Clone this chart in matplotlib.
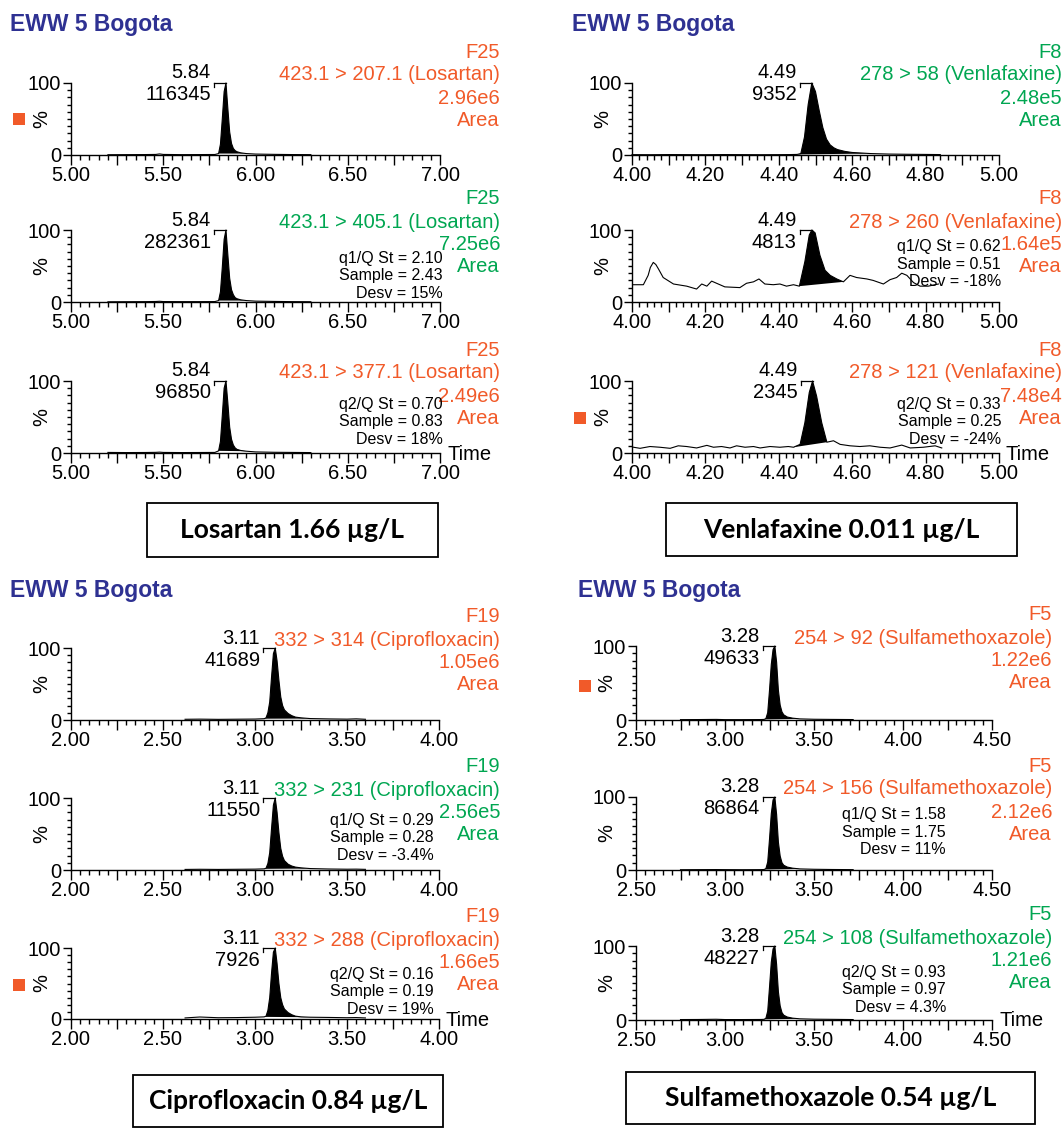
import matplotlib
matplotlib.use("Agg")
import matplotlib.pyplot as plt
from matplotlib.lines import Line2D
from matplotlib.patches import Rectangle
from matplotlib.ticker import MultipleLocator, FixedLocator, FuncFormatter

plt.rcParams['font.family'] = ['Liberation Sans', 'DejaVu Sans']

# ---------------- data ----------------
sample_title = "EWW 5 Bogota"

# Losartan (x 5.00-7.00)
los_t = [5.20, 5.30, 5.40, 5.46, 5.48, 5.50, 5.60, 5.70, 5.78, 5.80, 5.81, 5.82, 5.83,
         5.84, 5.85, 5.86, 5.87, 5.88, 5.89, 5.90, 5.92, 5.95, 6.00, 6.10, 6.20, 6.30]
los_q = [0.4, 0.5, 0.6, 0.8, 1.5, 0.8, 0.5, 0.6, 0.7, 2, 15, 50, 88,
         100, 65, 32, 16, 9, 6, 4.5, 3, 2, 1.3, 0.9, 0.6, 0.5]
los_q1 = [0.3, 0.4, 0.5, 0.7, 1.0, 0.6, 0.5, 0.5, 0.6, 2, 14, 48, 87,
          100, 66, 33, 17, 10, 6, 4.5, 3, 2, 1.2, 0.8, 0.5, 0.4]
los_q2 = [0.8, 0.6, 0.7, 0.9, 1.2, 0.8, 0.6, 0.7, 0.8, 3, 16, 52, 90,
          100, 70, 36, 19, 11, 7, 5, 3.5, 2.5, 1.5, 1.0, 0.8, 0.6]
los_rt = "5.84"
los_heights = ["116345", "282361", "96850"]
los_channel = "F25"
los_transitions = ["423.1 > 207.1 (Losartan)", "423.1 > 405.1 (Losartan)", "423.1 > 377.1 (Losartan)"]
los_areas = ["2.96e6", "7.25e6", "2.49e6"]
los_colors = ["red", "green", "red"]
los_ratios = [None, ("q1", "2.10", "2.43", "15%"), ("q2", "0.70", "0.83", "18%")]
los_fill = [(5.80, 5.95), (5.80, 5.95), (5.80, 5.95)]
los_result = "Losartan 1.66 µg/L"

# Venlafaxine (x 4.00-5.00)
ven_t_q = [4.00, 4.05, 4.10, 4.15, 4.20, 4.25, 4.30, 4.35, 4.40, 4.43, 4.45, 4.46, 4.47,
           4.48, 4.49, 4.50, 4.51, 4.52, 4.53, 4.54, 4.55, 4.56, 4.58, 4.60, 4.65, 4.70,
           4.75, 4.80, 4.84]
ven_q = [0.5, 0.4, 0.6, 0.5, 0.4, 0.6, 0.5, 0.4, 0.5, 0.6, 0.8, 2, 25,
         70, 100, 88, 62, 38, 22, 14, 10, 7.5, 5, 3.5, 2, 1.3,
         1, 0.8, 0.6]
ven_t_q1 = [4.004, 4.031, 4.044, 4.050, 4.058, 4.065, 4.072, 4.085, 4.113, 4.149, 4.176,
            4.190, 4.204, 4.217, 4.235, 4.253, 4.294, 4.312, 4.331, 4.346, 4.362, 4.385,
            4.403, 4.421, 4.440, 4.456, 4.471, 4.483, 4.490, 4.499, 4.512, 4.526, 4.540,
            4.558, 4.576, 4.594, 4.612, 4.640, 4.657, 4.685, 4.703, 4.721, 4.735, 4.749,
            4.767, 4.785, 4.807, 4.835]
ven_q1 = [24, 24, 37, 48, 55, 52, 46, 34, 25, 22, 18,
          25, 22, 29, 25, 21, 20, 26, 28, 32, 25, 24,
          25, 22, 24, 22, 56, 93, 100, 96, 65, 44, 37,
          32, 28, 37, 34, 32, 30, 25, 31, 34, 40, 37,
          27, 22, 22, 25]
ven_t_q2 = [4.004, 4.022, 4.049, 4.076, 4.104, 4.126, 4.149, 4.176, 4.204, 4.222, 4.244,
            4.267, 4.285, 4.308, 4.331, 4.349, 4.376, 4.403, 4.426, 4.440, 4.458, 4.471,
            4.483, 4.492, 4.503, 4.517, 4.531, 4.549, 4.567, 4.594, 4.621, 4.648, 4.676,
            4.703, 4.735, 4.758, 4.794, 4.826, 4.844]
ven_q2 = [8, 6.5, 9, 8, 6.5, 10, 9, 7, 10.6, 8, 9,
          7, 10, 8, 9, 7, 9, 8, 9, 8, 12, 42,
          84, 100, 79, 42, 15, 17, 12, 10, 9, 10, 8,
          7, 11, 7, 8, 10, 7]
ven_rt = "4.49"
ven_heights = ["9352", "4813", "2345"]
ven_channel = "F8"
ven_transitions = ["278 > 58 (Venlafaxine)", "278 > 260 (Venlafaxine)", "278 > 121 (Venlafaxine)"]
ven_areas = ["2.48e5", "1.64e5", "7.48e4"]
ven_colors = ["green", "red", "red"]
ven_ratios = [None, ("q1", "0.62", "0.51", "-18%"), ("q2", "0.33", "0.25", "-24%")]
ven_fill = [(4.45, 4.65), (4.456, 4.576), (4.440, 4.531)]
ven_result = "Venlafaxine 0.011 µg/L"

# Ciprofloxacin (x 2.00-4.00)
cip_t = [2.62, 2.70, 2.80, 2.90, 3.00, 3.05, 3.06, 3.07, 3.08, 3.09, 3.10, 3.11, 3.12,
         3.13, 3.14, 3.15, 3.16, 3.18, 3.20, 3.22, 3.25, 3.30, 3.40, 3.50, 3.55, 3.60]
cip_q = [1.0, 1.2, 0.9, 1.1, 1.3, 1.8, 3, 10, 25, 60, 92, 100, 82,
         55, 32, 20, 14, 9, 6, 4, 3, 2, 1.5, 1.2, 1.6, 1.0]
cip_q1 = [0.8, 1.0, 0.8, 1.0, 1.2, 1.6, 2.5, 9, 24, 58, 90, 100, 80,
          52, 30, 19, 13, 8, 5.5, 4, 3, 2, 1.4, 1.1, 1.2, 0.9]
cip_q2 = [1.5, 2.8, 1.8, 2.0, 2.5, 3, 4, 12, 30, 65, 94, 100, 78,
          50, 30, 20, 14, 9, 6, 4, 3, 2.5, 2.2, 1.8, 2.0, 1.5]
cip_rt = "3.11"
cip_heights = ["41689", "11550", "7926"]
cip_channel = "F19"
cip_transitions = ["332 > 314 (Ciprofloxacin)", "332 > 231 (Ciprofloxacin)", "332 > 288 (Ciprofloxacin)"]
cip_areas = ["1.05e6", "2.56e5", "1.66e5"]
cip_colors = ["red", "green", "red"]
cip_ratios = [None, ("q1", "0.29", "0.28", "-3.4%"), ("q2", "0.16", "0.19", "19%")]
cip_fill = [(3.05, 3.30), (3.05, 3.30), (3.05, 3.30)]
cip_result = "Ciprofloxacin 0.84 µg/L"

# Sulfamethoxazole (x 2.50-4.50)
sul_t = [2.75, 2.85, 2.95, 3.00, 3.10, 3.20, 3.22, 3.23, 3.24, 3.25, 3.26, 3.27, 3.28,
         3.29, 3.30, 3.31, 3.32, 3.33, 3.35, 3.38, 3.42, 3.50, 3.60, 3.72]
sul_q = [0.5, 0.6, 0.8, 0.5, 0.5, 0.6, 0.8, 2, 10, 40, 75, 95, 100,
         78, 40, 20, 11, 7, 4, 2.5, 1.5, 1.0, 0.8, 0.6]
sul_q1 = [0.4, 0.5, 0.6, 0.5, 0.4, 0.5, 0.7, 2, 11, 42, 77, 96, 100,
          76, 38, 19, 10, 6.5, 4, 2.5, 1.5, 1.0, 0.7, 0.5]
sul_q2 = [0.6, 0.7, 1.0, 0.6, 0.6, 0.7, 0.9, 2.5, 12, 44, 78, 96, 100,
          75, 38, 19, 10, 6.5, 4, 2.5, 1.6, 1.1, 0.9, 0.6]
sul_rt = "3.28"
sul_heights = ["49633", "86864", "48227"]
sul_channel = "F5"
sul_transitions = ["254 > 92 (Sulfamethoxazole)", "254 > 156 (Sulfamethoxazole)", "254 > 108 (Sulfamethoxazole)"]
sul_areas = ["1.22e6", "2.12e6", "1.21e6"]
sul_colors = ["red", "red", "green"]
sul_ratios = [None, ("q1", "1.58", "1.75", "11%"), ("q2", "0.93", "0.97", "4.3%")]
sul_fill = [(3.22, 3.42), (3.22, 3.42), (3.22, 3.42)]
sul_result = "Sulfamethoxazole 0.54 µg/L"

# ---------------- style / layout ----------------
W, H = 1064, 1128
RED = "#F15A29"
GREEN = "#00A651"
BLUE = "#2E3192"
COL = {"red": RED, "green": GREEN}
FS = 14.5
FS_SMALL = 11.5

fig = plt.figure(figsize=(W / 100, H / 100), dpi=100)


def fx(x):
    return x / W


def fy(y):
    return 1 - y / H


def ftext(x, y, s, **kw):
    fig.text(fx(x), fy(y), s, **kw)


def to_px(ax, x, y):
    dx, dy = ax.transData.transform((x, y))
    return dx, H - dy


def draw_group(g):
    x0, x1 = g["x0"], g["x1"]
    ftext(g["title"][0], g["title"][1], sample_title, ha="left", va="center",
          fontsize=16.5, fontweight="bold", color=BLUE)
    for i in range(3):
        top, bot = g["rows"][i]
        ax = fig.add_axes([fx(x0), fy(bot), fx(x1 - x0), (bot - top) / H])
        ax.set_facecolor("none")
        t, y = g["t"][i], g["y"][i]
        ax.set_xlim(*g["xlim"])
        ax.set_ylim(0, 100)
        for s in ("top", "right"):
            ax.spines[s].set_visible(False)
        for s in ("left", "bottom"):
            ax.spines[s].set_linewidth(1.0)
        ax.xaxis.set_major_locator(MultipleLocator(g["major"]))
        ax.xaxis.set_minor_locator(MultipleLocator(g["minor"]))
        le = g["label_every"]
        ax.xaxis.set_major_formatter(FuncFormatter(
            lambda v, p, le=le: f"{v:.2f}" if abs(v / le - round(v / le)) < 1e-6 else ""))
        ax.yaxis.set_major_locator(FixedLocator([0, 100]))
        ax.yaxis.set_minor_locator(MultipleLocator(10))
        ax.tick_params(axis="x", which="major", length=7, width=1.0, pad=1, labelsize=FS)
        ax.tick_params(axis="x", which="minor", length=3.5, width=1.0)
        ax.tick_params(axis="y", which="major", length=6, width=1.0, pad=1, labelsize=FS)
        ax.tick_params(axis="y", which="minor", length=3, width=1.0)
        # trace
        ax.plot(t, y, color="black", lw=0.8, clip_on=False, zorder=3)
        fs, fe = g["fill"][i]
        idx = [k for k in range(len(t)) if fs - 1e-9 <= t[k] <= fe + 1e-9]
        px = [t[k] for k in idx]
        py = [y[k] for k in idx]
        ax.fill(px, py, color="black", lw=0, zorder=3, clip_on=False)
        # peak label
        k = max(range(len(y)), key=lambda j: y[j])
        ax_px, ay_px = to_px(ax, t[k], y[k])
        fig.add_artist(Line2D([fx(ax_px - 12), fx(ax_px)], [fy(top), fy(top)],
                              color="black", lw=0.9, transform=fig.transFigure))
        fig.add_artist(Line2D([fx(ax_px - 12), fx(ax_px - 12)], [fy(top), fy(top + 4)],
                              color="black", lw=0.9, transform=fig.transFigure))
        ftext(ax_px - 15, top - 10, g["rt"], ha="right", va="center", fontsize=FS)
        ftext(ax_px - 15, top + 12, g["heights"][i], ha="right", va="center", fontsize=FS)
        # % label
        ftext(x0 - 29, (top + bot) / 2, "%", ha="center", va="center", rotation=90, fontsize=FS)
        # right text block
        c = COL[g["colors"][i]]
        rx = g["rx"]
        for off, s in zip([-31, -8, 15, 37],
                          [g["channel"], g["trans"][i], g["areas"][i], "Area"]):
            ftext(rx, top + off, s, ha="right", va="center", fontsize=FS, color=c)
        # ratio block
        r = g["ratios"][i]
        if r is not None:
            y0 = top + g["small_off"][i]
            lines = [f"{r[0]}/Q St = {r[1]}", f"Sample = {r[2]}", f"Desv = {r[3]}"]
            for j, s in enumerate(lines):
                ftext(g["sx"], y0 + 17.5 * j, s, ha="right", va="center", fontsize=FS_SMALL)
        if i == 2:
            ftext(x1 + 7, bot + 1, "Time", ha="left", va="center", fontsize=FS)
    # result box
    bx0, by0, bx1, by1 = g["box"]
    fig.add_artist(Rectangle((fx(bx0), fy(by1)), fx(bx1 - bx0), (by1 - by0) / H,
                             fill=False, ec="black", lw=1.3, transform=fig.transFigure))
    ftext((bx0 + bx1) / 2, (by0 + by1) / 2, g["result"], ha="center", va="center",
          fontsize=19, fontweight="bold", family=["Lato", "DejaVu Sans"])
    sqx, sqy = g["square"]
    fig.add_artist(Rectangle((fx(sqx - 6), fy(sqy + 6)), 12 / W, 12 / H, color=RED,
                             lw=0, transform=fig.transFigure))


groups = [
    dict(x0=71, x1=440, rows=[(83, 155), (230, 302), (381, 453)], title=(10, 25),
         xlim=(5.0, 7.0), major=0.25, minor=0.05, label_every=0.5,
         t=[los_t, los_t, los_t], y=[los_q, los_q1, los_q2], fill=los_fill,
         rt=los_rt, heights=los_heights, channel=los_channel, trans=los_transitions,
         areas=los_areas, colors=los_colors, ratios=los_ratios, result=los_result,
         rx=500, sx=443, small_off=[0, 28, 23], box=(147, 503, 438, 557), square=(19, 119)),
    dict(x0=632, x1=999, rows=[(83, 155), (230, 302), (381, 453)], title=(572, 25),
         xlim=(4.0, 5.0), major=0.1, minor=0.02, label_every=0.2,
         t=[ven_t_q, ven_t_q1, ven_t_q2], y=[ven_q, ven_q1, ven_q2], fill=ven_fill,
         rt=ven_rt, heights=ven_heights, channel=ven_channel, trans=ven_transitions,
         areas=ven_areas, colors=ven_colors, ratios=ven_ratios, result=ven_result,
         rx=1062, sx=1001, small_off=[0, 17, 23], box=(666, 503, 1017, 556), square=(580, 418)),
    dict(x0=71, x1=439, rows=[(648, 720), (798, 870), (948, 1019)], title=(10, 590),
         xlim=(2.0, 4.0), major=0.25, minor=0.05, label_every=0.5,
         t=[cip_t, cip_t, cip_t], y=[cip_q, cip_q1, cip_q2], fill=cip_fill,
         rt=cip_rt, heights=cip_heights, channel=cip_channel, trans=cip_transitions,
         areas=cip_areas, colors=cip_colors, ratios=cip_ratios, result=cip_result,
         rx=500, sx=434, small_off=[0, 22, 26], box=(133, 1075, 443, 1127), square=(19, 985)),
    dict(x0=636, x1=992, rows=[(646, 720), (797, 870), (946, 1020)], title=(578, 590),
         xlim=(2.5, 4.5), major=0.25, minor=0.05, label_every=0.5,
         t=[sul_t, sul_t, sul_t], y=[sul_q, sul_q1, sul_q2], fill=sul_fill,
         rt=sul_rt, heights=sul_heights, channel=sul_channel, trans=sul_transitions,
         areas=sul_areas, colors=sul_colors, ratios=sul_ratios, result=sul_result,
         rx=1052, sx=946, small_off=[0, 18, 26], box=(626, 1072, 1035, 1124), square=(585, 686)),
]

for g in groups:
    draw_group(g)

fig.savefig("out.png", dpi=100)
